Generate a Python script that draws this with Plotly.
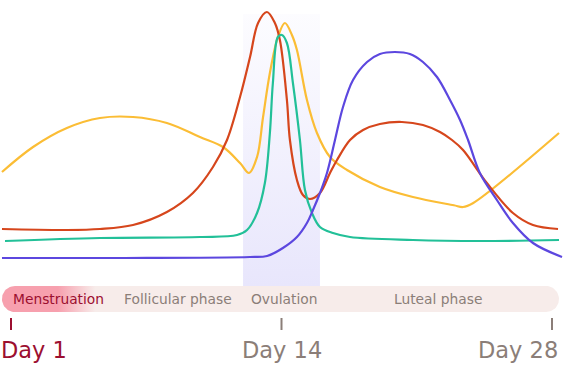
import numpy as np
import plotly.graph_objects as go

# ---- data: cycle day (x) and relative hormone level (y) ----
yellow_day = [0.55, 2.10, 3.79, 5.44, 7.09, 8.78, 10.43, 11.58, 12.43, 12.88, 13.28, 13.58, 13.92, 14.32,
              14.67, 15.02, 15.27, 15.77, 16.27, 16.92, 17.77, 19.41, 21.06, 23.10, 23.56, 24.05, 28.35]
yellow_lvl = [35.2, 45.2, 52.8, 56.8, 57.2, 54.8, 49.2, 45.2, 38.8, 34.8, 41.2, 57.2, 74.8, 89.2,
              94.8, 90.0, 84.0, 64.0, 50.8, 41.2, 36.0, 29.2, 25.2, 21.9, 21.2, 22.7, 50.8]

red_day = [0.55, 3.79, 5.44, 7.09, 8.78, 10.08, 11.08, 11.78, 12.43, 12.93, 13.33, 13.77, 14.17, 14.42,
           14.77, 14.92, 15.27, 15.57, 15.92, 16.42, 16.92, 17.27, 17.92, 18.57, 19.41, 20.51, 21.56,
           22.41, 23.01, 23.56, 24.75, 26.05, 27.05, 28.30]
red_lvl = [12.4, 12.0, 12.4, 14.0, 19.2, 26.8, 37.2, 48.0, 65.2, 81.2, 94.8, 99.2, 94.8, 88.0,
           64.0, 48.0, 32.0, 26.0, 24.4, 26.8, 34.8, 40.0, 48.0, 52.0, 54.4, 55.2, 54.0,
           51.2, 48.0, 44.0, 30.8, 18.8, 14.0, 12.4]

green_day = [0.70, 5.44, 10.43, 12.28, 12.78, 13.28, 13.67, 13.92, 14.07, 14.32, 14.52, 14.77, 15.07,
             15.42, 15.67, 16.02, 16.42, 17.07, 17.92, 21.06, 24.40, 28.35]
green_lvl = [7.6, 8.8, 9.2, 10.0, 12.0, 18.8, 30.8, 50.8, 70.8, 89.2, 90.0, 86.8, 70.8,
             48.0, 28.0, 18.8, 13.2, 10.8, 9.2, 8.0, 7.6, 8.0]

purple_day = [0.55, 6.69, 12.93, 13.78, 14.57, 15.27, 15.77, 16.07, 16.42, 16.77, 17.17, 17.57, 18.07,
              18.77, 19.41, 20.16, 20.91, 21.56, 22.26, 22.91, 23.41, 23.81, 24.40, 25.25, 26.05,
              27.05, 28.50]
purple_lvl = [0.8, 0.8, 1.2, 1.6, 4.8, 9.2, 14.8, 20.0, 26.8, 34.8, 48.0, 61.2, 72.0,
              79.2, 82.4, 83.2, 82.4, 79.2, 73.2, 64.0, 56.0, 48.0, 34.8, 24.0, 14.8,
              6.8, 1.2]

phase_names = ["Menstruation", "Follicular phase", "Ovulation", "Luteal phase"]
phase_centers = [3.35, 9.33, 14.67, 22.31]
cycle_start, cycle_end = 0.55, 28.35
menstruation_end = 5.2
ovulation_start, ovulation_end = 12.58, 16.42

tick_days = [1, 14.5, 28]
tick_labels = ["Day 1", "Day 14", "Day 28"]

# ---- style ----
C_YELLOW = "#fbbd35"
C_RED = "#d6461c"
C_GREEN = "#22c098"
C_PURPLE = "#5c47df"
C_DARKRED = "#9c0f30"
C_GRAY = "#8b7e78"
C_BAR = "#f7ecea"
C_PINK = "rgba(247,160,174,1)"
FONT = "'DejaVu Sans', sans-serif"

PX_X = 20.04   # px per day
PX_Y = 2.5     # px per level unit
BAR_TOP, BAR_BOT = -10.4, -20.8
rx = 13 / PX_X
ry = 13 / PX_Y

fig = go.Figure()

# ovulation band with vertical gradient
fig.add_trace(go.Scatter(
    x=[ovulation_start, ovulation_end, ovulation_end, ovulation_start, ovulation_start],
    y=[BAR_TOP, BAR_TOP, 98.4, 98.4, BAR_TOP],
    mode="lines", line=dict(width=0), fill="toself",
    fillgradient=dict(type="vertical",
                      colorscale=[[0, "rgba(232,230,252,1)"], [1, "rgba(232,230,252,0.12)"]]),
    hoverinfo="skip", showlegend=False))

# hormone curves
for xs, ys, col in [(yellow_day, yellow_lvl, C_YELLOW), (red_day, red_lvl, C_RED),
                    (green_day, green_lvl, C_GREEN), (purple_day, purple_lvl, C_PURPLE)]:
    fig.add_trace(go.Scatter(x=xs, y=ys, mode="lines",
                             line=dict(color=col, width=2.2, shape="spline", smoothing=1.0),
                             hoverinfo="skip", showlegend=False))

# phase bar (pill shape)
yc = (BAR_TOP + BAR_BOT) / 2
a_left = np.linspace(np.pi / 2, 3 * np.pi / 2, 30)
a_right = np.linspace(-np.pi / 2, np.pi / 2, 30)
bx = np.concatenate([cycle_start + rx + rx * np.cos(a_left), cycle_end - rx + rx * np.cos(a_right)])
by = np.concatenate([yc + ry * np.sin(a_left), yc + ry * np.sin(a_right)])
fig.add_trace(go.Scatter(x=np.append(bx, bx[0]), y=np.append(by, by[0]), mode="lines",
                         line=dict(width=0), fill="toself", fillcolor=C_BAR,
                         hoverinfo="skip", showlegend=False))

# menstruation highlight with horizontal gradient
mx = np.concatenate([cycle_start + rx + rx * np.cos(a_left), [menstruation_end, menstruation_end]])
my = np.concatenate([yc + ry * np.sin(a_left), [BAR_BOT, BAR_TOP]])
fig.add_trace(go.Scatter(x=np.append(mx, mx[0]), y=np.append(my, my[0]), mode="lines",
                         line=dict(width=0), fill="toself",
                         fillgradient=dict(type="horizontal",
                                           colorscale=[[0, C_PINK], [0.6, C_PINK],
                                                       [1, "rgba(247,160,174,0)"]]),
                         hoverinfo="skip", showlegend=False))

# phase labels
for i, (name, cx) in enumerate(zip(phase_names, phase_centers)):
    fig.add_annotation(x=cx, y=yc, text=name, showarrow=False, xanchor="center", yanchor="middle",
                       font=dict(family=FONT, size=13.8, color=C_DARKRED if i == 0 else C_GRAY))

# ticks and day labels
anchors = ["left", "center", "right"]
label_x = [cycle_start, tick_days[1], 28.38]
label_shift = [-3, 0, 0]
for i, (d, lab) in enumerate(zip(tick_days, tick_labels)):
    col = C_DARKRED if i == 0 else C_GRAY
    fig.add_shape(type="line", x0=d, x1=d, y0=-23.2, y1=-28.0, xref="x", yref="y",
                  line=dict(color=col, width=2))
    fig.add_annotation(x=label_x[i], y=-36.0, text=lab, showarrow=False, xanchor=anchors[i],
                       xshift=label_shift[i],
                       yanchor="middle", font=dict(family=FONT, size=22.5, color=col))

fig.update_layout(
    width=563, height=368, margin=dict(l=0, r=0, t=0, b=0),
    paper_bgcolor="white", plot_bgcolor="white",
    xaxis=dict(range=[0.451, 28.549], visible=False, fixedrange=True),
    yaxis=dict(range=[-43.2, 104], visible=False, fixedrange=True),
)

fig.write_html("out.html", config={"displayModeBar": False},
               post_script="document.body.style.margin='0';document.body.style.padding='0';")
